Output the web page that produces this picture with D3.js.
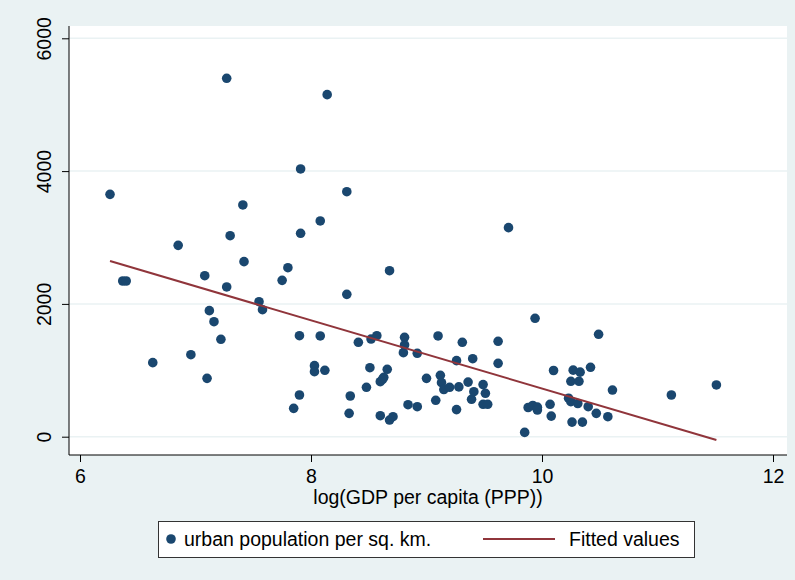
<!DOCTYPE html>
<html>
<head>
<meta charset="utf-8">
<script src="https://cdn.jsdelivr.net/npm/d3@7"></script>
<style>
  html, body { margin: 0; padding: 0; background: #eaf2f3; }
  svg { display: block; font-family: "Liberation Sans", Arial, sans-serif; }
</style>
</head>
<body>
<svg id="chart" width="795" height="580"></svg>
<script>
// log GDP per capita (PPP) for each country
const logGdp = [
  6.26, 6.37, 6.40, 6.63, 6.85, 6.96, 7.08, 7.10, 7.12, 7.16,
  7.22, 7.27, 7.27, 7.30, 7.41, 7.42, 7.55, 7.58, 7.75, 7.80,
  7.85, 7.90, 7.90, 7.91, 7.91, 8.03, 8.03, 8.08, 8.08, 8.12,
  8.14, 8.31, 8.31, 8.33, 8.34, 8.41, 8.48, 8.51, 8.52, 8.57,
  8.60, 8.60, 8.63, 8.62, 8.66, 8.68, 8.68, 8.71, 8.80, 8.81,
  8.81, 8.84, 8.92, 8.92, 9.00, 9.08, 9.10, 9.12, 9.13, 9.15,
  9.20, 9.26, 9.26, 9.28, 9.31, 9.36, 9.39, 9.40, 9.41, 9.49,
  9.51, 9.49, 9.53, 9.62, 9.62, 9.71, 9.85, 9.88, 9.92, 9.96,
  9.96, 9.94, 10.07, 10.08, 10.10, 10.23, 10.25, 10.25, 10.26, 10.27,
  10.31, 10.32, 10.33, 10.35, 10.40, 10.42, 10.47, 10.49, 10.57, 10.61,
  11.12, 11.51
];

// urban population per sq. km. for the same countries
const urbanDensity = [
  3650, 2345, 2345, 1115, 2882, 1235, 2425, 879, 1898, 1732,
  1467, 5398, 2255, 3027, 3490, 2636, 2033, 1913, 2355, 2545,
  427, 1521, 628, 4032, 3063, 1070, 979, 3249, 1517, 1000,
  5151, 3690, 2144, 352, 613, 1422, 744, 1039, 1471, 1521,
  828, 316, 895, 865, 1015, 2500, 251, 301, 1265, 1381,
  1497, 482, 1256, 452, 879, 548, 1517, 924, 813, 710,
  744, 1145, 408, 750, 1422, 822, 563, 1175, 678, 785,
  654, 488, 488, 1437, 1105, 3148, 65, 440, 470, 445,
  402, 1783, 488, 310, 997, 580, 527, 834, 220, 1002,
  500, 834, 972, 220, 452, 1045, 352, 1542, 301, 703,
  628, 779
];

const xTicks = [6, 8, 10, 12];
const yTicks = [0, 2000, 4000, 6000];
const xTitle = "log(GDP per capita (PPP))";
const legendLabels = ["urban population per sq. km.", "Fitted values"];

const navy = "#1a476f";
const maroon = "#90353b";
const bg = "#eaf2f3";
const fontSize = 19.5;

const svg = d3.select("#chart");

// plot region
const region = { left: 69, right: 787, top: 26, bottom: 455 };
svg.append("rect")
  .attr("x", region.left).attr("y", region.top)
  .attr("width", region.right - region.left)
  .attr("height", region.bottom - region.top)
  .attr("fill", "#fff");

const x = d3.scaleLinear().domain([6, 12]).range([80, 773]);
const y = d3.scaleLinear().domain([0, 6000]).range([436.7, 38.3]);

// horizontal grid lines
svg.append("g").selectAll("line").data(yTicks).join("line")
  .attr("x1", region.left).attr("x2", region.right)
  .attr("y1", d => y(d)).attr("y2", d => y(d))
  .attr("stroke", bg).attr("stroke-width", 1.5);

// y axis
const yAxis = svg.append("g")
  .attr("transform", `translate(${region.left},0)`)
  .call(d3.axisLeft(y).tickValues(yTicks).tickSize(7).tickPadding(0).tickFormat(d3.format("d")));
yAxis.select(".domain").remove();
yAxis.selectAll(".tick line").attr("stroke", "#000");
yAxis.selectAll(".tick text")
  .attr("x", 0).attr("dy", null).attr("y", 0)
  .attr("transform", "translate(-18,0) rotate(-90)")
  .attr("text-anchor", "middle")
  .attr("font-size", fontSize)
  .attr("font-family", "Liberation Sans, Arial, sans-serif")
  .attr("fill", "#000");
svg.append("line")
  .attr("x1", region.left).attr("x2", region.left)
  .attr("y1", region.top).attr("y2", region.bottom)
  .attr("stroke", "#000").attr("stroke-width", 1);

// x axis
const xAxis = svg.append("g")
  .attr("transform", `translate(0,${region.bottom})`)
  .call(d3.axisBottom(x).tickValues(xTicks).tickSize(7).tickPadding(0).tickFormat(d3.format("d")));
xAxis.select(".domain").remove();
xAxis.selectAll(".tick line").attr("stroke", "#000");
xAxis.selectAll(".tick text")
  .attr("y", 28).attr("dy", null)
  .attr("font-size", fontSize)
  .attr("font-family", "Liberation Sans, Arial, sans-serif")
  .attr("fill", "#000");
svg.append("line")
  .attr("x1", region.left).attr("x2", region.right)
  .attr("y1", region.bottom).attr("y2", region.bottom)
  .attr("stroke", "#000").attr("stroke-width", 1);

svg.append("text")
  .attr("x", 428).attr("y", 504)
  .attr("text-anchor", "middle")
  .attr("font-size", fontSize)
  .text(xTitle);

// scatter points
const points = logGdp.map((v, i) => ({ gdp: v, dens: urbanDensity[i] }));
svg.append("g").selectAll("circle").data(points).join("circle")
  .attr("cx", d => x(d.gdp)).attr("cy", d => y(d.dens))
  .attr("r", 4.8).attr("fill", navy);

// least-squares fit of density on log GDP
const mx = d3.mean(logGdp), my = d3.mean(urbanDensity);
const sxy = d3.sum(points, d => (d.gdp - mx) * (d.dens - my));
const sxx = d3.sum(points, d => (d.gdp - mx) ** 2);
const slope = sxy / sxx, intercept = my - slope * mx;
const fitX = d3.extent(logGdp);
svg.append("path")
  .datum(fitX.map(v => [v, intercept + slope * v]))
  .attr("d", d3.line().x(d => x(d[0])).y(d => y(d[1])))
  .attr("fill", "none").attr("stroke", maroon).attr("stroke-width", 2);

// legend
const legend = svg.append("g");
legend.append("rect")
  .attr("x", 158.5).attr("y", 521.5).attr("width", 536).attr("height", 36)
  .attr("fill", "#fff").attr("stroke", "#333").attr("stroke-width", 1);
legend.append("circle").attr("cx", 171).attr("cy", 539).attr("r", 4.8).attr("fill", navy);
legend.append("text").attr("x", 184).attr("y", 546).attr("font-size", fontSize).text(legendLabels[0]);
legend.append("line").attr("x1", 483).attr("x2", 555).attr("y1", 539).attr("y2", 539)
  .attr("stroke", maroon).attr("stroke-width", 2);
legend.append("text").attr("x", 569).attr("y", 546).attr("font-size", fontSize).text(legendLabels[1]);
</script>
</body>
</html>
